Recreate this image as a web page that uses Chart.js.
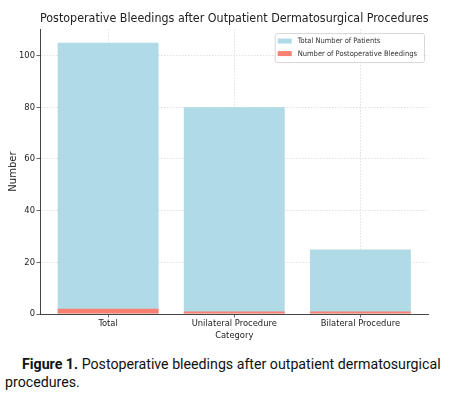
<!DOCTYPE html>
<html>
<head>
<meta charset="utf-8">
<script src="https://cdn.jsdelivr.net/npm/chart.js@4.4.1/dist/chart.umd.min.js"></script>
<style>
  html, body { margin: 0; padding: 0; background: #fff; }
  body { width: 454px; height: 396px; position: relative; overflow: hidden; }
  #wrap { position: absolute; left: 0; top: 0; width: 454px; height: 350px; }
  #caption {
    position: absolute; left: 5px; top: 356px; width: 445px;
    font-family: Roboto, "Liberation Sans", sans-serif; font-size: 14.2px;
    line-height: 17.5px; color: #111; text-indent: 17px;
  }
  #caption b { font-weight: 700; }
</style>
</head>
<body>
<div id="wrap"><canvas id="chart" width="454" height="350"></canvas></div>
<div id="caption"><b>Figure 1.</b> Postoperative bleedings after outpatient dermatosurgical procedures.</div>
<script>
const categories = ['Total', 'Unilateral Procedure', 'Bilateral Procedure']
const totalPatients = [105, 80, 25]
const postopBleedings = [2, 1, 1]
const yTicks = [0, 20, 40, 60, 80, 100]

const FONT = '"DejaVu Sans Condensed", "DejaVu Sans", sans-serif'
const BLUE = 'rgba(173, 216, 230, 0.95)'
const RED = '#FA8072'

// matplotlib-style framed legend inside the plot (top right)
const boxLegend = {
  id: 'boxLegend',
  afterDraw(chart) {
    const { ctx, chartArea } = chart
    const items = chart.data.datasets
    ctx.save()
    ctx.font = '7.5px ' + FONT
    const textW = Math.max(...items.map(d => ctx.measureText(d.label).width))
    const w = textW + 30
    const h = 29
    const x = chartArea.right - 4.5 - w
    const y = chartArea.top + 4
    ctx.fillStyle = 'rgba(255,255,255,0.8)'
    ctx.strokeStyle = '#d6d6d6'
    ctx.lineWidth = 1
    ctx.beginPath()
    ctx.roundRect(x + 0.5, y + 0.5, w, h, 2)
    ctx.fill()
    ctx.stroke()
    items.forEach((d, i) => {
      const cy = y + 8 + i * 12.5
      ctx.fillStyle = d.backgroundColor
      ctx.fillRect(x + 3, cy - 2.5, 14, 5)
      ctx.fillStyle = '#333'
      ctx.textBaseline = 'middle'
      ctx.fillText(d.label, x + 23, cy)
    })
    ctx.restore()
  }
}

new Chart(document.getElementById('chart'), {
  type: 'bar',
  data: {
    datasets: [{
      label: 'Total Number of Patients',
      data: totalPatients.map((v, i) => ({ x: i, y: v })),
      backgroundColor: BLUE,
      order: 1
    }, {
      label: 'Number of Postoperative Bleedings',
      data: postopBleedings.map((v, i) => ({ x: i, y: v })),
      backgroundColor: RED,
      order: 0
    }]
  },
  options: {
    responsive: false,
    animation: false,
    layout: { padding: { left: 0, right: 25.5, top: 0, bottom: 0 } },
    datasets: { bar: { grouped: false, barPercentage: 0.8, categoryPercentage: 1 } },
    plugins: {
      legend: { display: false },
      tooltip: { enabled: false },
      title: {
        display: true,
        fullSize: false,
        text: 'Postoperative Bleedings after Outpatient Dermatosurgical Procedures',
        color: '#222',
        font: { family: FONT, size: 12.4, weight: 'normal' },
        padding: { top: 11.2, bottom: 3 }
      }
    },
    scales: {
      x: {
        type: 'linear',
        min: -0.54,
        max: 2.54,
        offset: false,
        z: 1,
        afterFit(scale) { scale.height = 36 },
        afterBuildTicks(scale) { scale.ticks = categories.map((c, i) => ({ value: i })) },
        ticks: {
          callback: v => categories[v],
          color: '#222',
          padding: 1,
          maxRotation: 0,
          autoSkip: false,
          font: { family: FONT, size: 9.3 }
        },
        grid: { offset: false, color: 'rgba(150,150,150,0.35)', tickColor: '#444', tickLength: 3.5, lineWidth: 0.8 },
        border: { color: '#444', width: 1, dash: [1.5, 1.5] },
        title: {
          display: true,
          text: 'Category',
          color: '#222',
          font: { family: FONT, size: 9.3 },
          padding: { top: 0, bottom: 9 }
        }
      },
      y: {
        min: 0,
        max: 110.25,
        z: 1,
        afterFit(scale) { scale.width = 40 },
        afterBuildTicks(scale) { scale.ticks = yTicks.map(v => ({ value: v })) },
        ticks: {
          color: '#222',
          padding: 1.5,
          font: { family: FONT, size: 9.3 }
        },
        grid: { color: 'rgba(150,150,150,0.35)', tickColor: '#444', tickLength: 3.5, lineWidth: 0.8 },
        border: { color: '#444', width: 1, dash: [1.5, 1.5] },
        title: {
          display: true,
          text: 'Number',
          color: '#222',
          font: { family: '"DejaVu Sans", sans-serif', size: 10 },
          padding: { top: 7, bottom: 0 }
        }
      }
    }
  },
  plugins: [boxLegend]
})
</script>
</body>
</html>
